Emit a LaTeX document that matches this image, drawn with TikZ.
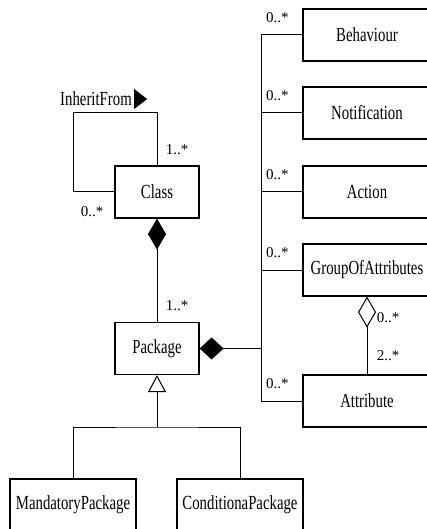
\documentclass[tikz,border=0pt]{standalone}
\usepackage{fontspec}
\setmainfont{Liberation Serif}
\newfontfamily\clsfont{Liberation Serif}[FakeStretch=0.74]
\usetikzlibrary{arrows.meta}

\tikzset{
  cls/.style={draw,line width=0.6pt,inner sep=0pt,minimum height=26pt,
    font=\clsfont\fontsize{10}{12}\selectfont},
  mult/.style={inner sep=0pt,font=\fontsize{7.5}{9}\selectfont},
  link/.style={line width=0.5pt},
}

\begin{document}
\begin{tikzpicture}[x=0.5pt,y=-0.5pt]
% one unit is half a point, y runs downwards
\clip (0,0) rectangle (427,529);
\node[cls,minimum width=42pt] (Class) at (157,192) {Class};
\node[cls,minimum width=42pt] (Package) at (157,348.5) {Package};
\node[cls,minimum width=64pt] (Behaviour) at (367,35) {Behaviour};
\node[cls,minimum width=64pt] (Notification) at (367,113) {Notification};
\node[cls,minimum width=64pt] (Action) at (367,192) {Action};
\node[cls,minimum width=64pt] (GroupOfAttributes) at (367,270) {GroupOfAttributes};
\node[cls,minimum width=64pt] (Attribute) at (367,401) {Attribute};
\node[cls,minimum width=63pt] (MandatoryPackage) at (73,505) {MandatoryPackage};
\node[cls,minimum width=63pt] (ConditionaPackage) at (240,505) {ConditionaPackage};
\coordinate (loop) at (73,113);
\coordinate (trunk) at (261,0);
\coordinate (gen) at (157,427);

% self association on Class
\draw[link] (Class.north) |- (loop) |- (Class.west);
\node[inner sep=0pt,font=\clsfont\fontsize{10}{12}\selectfont] (inherit) at (96,99) {InheritFrom};
\fill (inherit.east) ++(2,-10) -- ++(13,10) -- ++(-13,10) -- cycle;
\node[mult] (mClassTop) at (177,150) {1..*};
\node[mult] (mClassLeft) at (92,212) {0..*};

% Class owns packages
\draw[link,{Diamond[length=15.5pt,width=9pt]}-] (Class.south) -- (Package.north);
\node[mult] (mPackage) at (177,306) {1..*};

% package contents
\draw[link] (Behaviour.west) -| (trunk |- Attribute.west) -- (Attribute.west);
\foreach \n in {Notification,Action,GroupOfAttributes}
  \draw[link] (\n.west) -- (trunk |- \n.west);
\draw[link,{Diamond[length=12pt,width=11pt]}-] (Package.east) -- (trunk |- Package.east);
\foreach \n in {Behaviour,Notification,Action,GroupOfAttributes,Attribute}
  \node[mult] (m\n) at ([xshift=-12.5pt,yshift=8.5pt]\n.west) {0..*};

% group of attributes
\draw[link,{Diamond[open,length=15.5pt,width=9pt]}-] (GroupOfAttributes.south) -- (Attribute.north);
\node[mult] (mGroup) at (388,318) {0..*};
\node[mult] (mAttr) at (388,356) {2..*};

% package kinds
\draw[link,{Triangle[open,length=8.5pt,width=9pt]}-] (Package.south) -- (gen);
\draw[link] (MandatoryPackage.north) |- (gen) -| (ConditionaPackage.north);
\end{tikzpicture}
\end{document}
